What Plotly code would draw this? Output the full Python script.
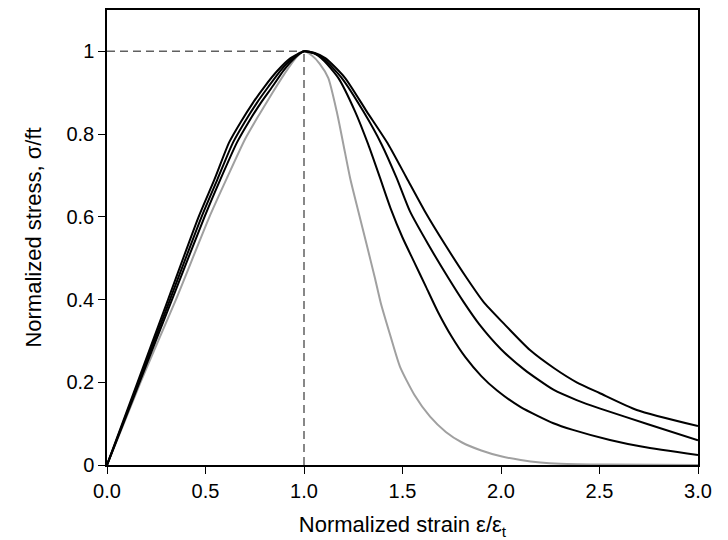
import plotly.graph_objects as go

# Normalized tensile stress-strain curves (strain / peak strain, stress / tensile strength)
strain_a = [0.0, 0.155, 0.31, 0.465, 0.545, 0.62, 0.68, 0.74, 0.80, 0.865, 0.93, 1.0, 1.05,
            1.1, 1.174, 1.259, 1.326, 1.386, 1.44, 1.50, 1.56, 1.62, 1.68, 1.75, 1.82, 1.90,
            1.98, 2.10, 2.266, 2.365, 2.553, 2.72, 3.0]
stress_a = [0.0, 0.2, 0.4, 0.6, 0.69, 0.78, 0.83, 0.875, 0.915, 0.953, 0.983, 1.0, 0.995,
            0.978, 0.936, 0.855, 0.775, 0.694, 0.62, 0.55, 0.49, 0.43, 0.37, 0.31, 0.26, 0.215,
            0.18, 0.14, 0.101, 0.085, 0.0605, 0.044, 0.024]

strain_b = [0.0, 0.16, 0.32, 0.48, 0.56, 0.64, 0.70, 0.76, 0.82, 0.88, 0.94, 1.0, 1.05,
            1.1, 1.191, 1.301, 1.394, 1.47, 1.538, 1.631, 1.733, 1.809, 1.89, 2.0, 2.12, 2.266,
            2.384, 2.5, 2.75, 3.0]
stress_b = [0.0, 0.2, 0.4, 0.6, 0.69, 0.78, 0.83, 0.875, 0.915, 0.953, 0.983, 1.0, 0.996,
            0.982, 0.936, 0.855, 0.775, 0.694, 0.613, 0.533, 0.452, 0.395, 0.34, 0.28, 0.23,
            0.182, 0.157, 0.137, 0.098, 0.06]

strain_c = [0.0, 0.165, 0.33, 0.495, 0.575, 0.66, 0.72, 0.78, 0.84, 0.895, 0.95, 1.0, 1.055,
            1.11, 1.208, 1.318, 1.428, 1.521, 1.614, 1.716, 1.826, 1.91, 2.012, 2.147, 2.27,
            2.384, 2.50, 2.689, 3.0]
stress_c = [0.0, 0.2, 0.4, 0.6, 0.69, 0.78, 0.83, 0.875, 0.915, 0.953, 0.983, 1.0, 0.996,
            0.983, 0.936, 0.855, 0.775, 0.694, 0.613, 0.533, 0.452, 0.395, 0.343, 0.278, 0.234,
            0.2, 0.174, 0.133, 0.094]

strain_gray = [0.0, 0.17, 0.35, 0.52, 0.61, 0.70, 0.77, 0.84, 0.90, 0.96, 1.0, 1.04, 1.08,
               1.123, 1.166, 1.2, 1.234, 1.276, 1.318, 1.36, 1.39, 1.44, 1.487, 1.56, 1.64,
               1.72, 1.80, 1.90, 2.0, 2.1, 2.2, 2.3, 2.54, 3.0]
stress_gray = [0.0, 0.2, 0.4, 0.6, 0.695, 0.787, 0.845, 0.9, 0.945, 0.985, 1.0, 0.99, 0.97,
               0.936, 0.855, 0.775, 0.694, 0.613, 0.533, 0.452, 0.391, 0.31, 0.238, 0.17, 0.117,
               0.08, 0.055, 0.035, 0.021, 0.012, 0.006, 0.003, 0.001, 0.0]

peak_strain = 1.0
peak_stress = 1.0

x_ticks = [0.0, 0.5, 1.0, 1.5, 2.0, 2.5, 3.0]
y_ticks = [0, 0.2, 0.4, 0.6, 0.8, 1.0]

FONT = "Liberation Sans, Arial, sans-serif"

fig = go.Figure()

# peak reference lines
for xs, ys in [([0, peak_strain], [peak_stress, peak_stress]),
               ([peak_strain, peak_strain], [0, peak_stress])]:
    fig.add_trace(go.Scatter(x=xs, y=ys, mode="lines",
                             line=dict(color="#606060", width=1.5, dash="8px,5px"),
                             hoverinfo="skip"))

fig.add_trace(go.Scatter(x=strain_gray, y=stress_gray, mode="lines",
                         line=dict(color="#a0a0a0", width=2, shape="spline", smoothing=0.6)))
for xs, ys in [(strain_a, stress_a), (strain_b, stress_b), (strain_c, stress_c)]:
    fig.add_trace(go.Scatter(x=xs, y=ys, mode="lines",
                             line=dict(color="#000000", width=2, shape="spline", smoothing=0.6)))

fig.update_layout(
    width=728, height=540,
    margin=dict(l=107, r=30, t=10, b=75),
    paper_bgcolor="white", plot_bgcolor="white",
    showlegend=False,
    font=dict(family=FONT, color="black"),
)
fig.update_xaxes(
    range=[0, 3.0], tickvals=x_ticks, ticktext=[f"{v:.1f}" for v in x_ticks],
    ticks="outside", ticklen=7, tickwidth=1.2, tickcolor="black",
    showline=True, linecolor="black", linewidth=1.5, mirror=True,
    showgrid=False, zeroline=False, layer="below traces", automargin=False,
    tickfont=dict(size=20, family=FONT),
    title=dict(text="Normalized strain ε/ε<sub>t</sub>", font=dict(size=22, family=FONT),
               standoff=17),
)
fig.update_yaxes(
    range=[0, 1.1], tickvals=y_ticks, ticktext=["0", "0.2", "0.4", "0.6", "0.8", "1"],
    ticks="outside", ticklen=7, tickwidth=1.2, tickcolor="black",
    showline=True, linecolor="black", linewidth=1.5, mirror=True,
    showgrid=False, zeroline=False, automargin=False,
    tickfont=dict(size=20, family=FONT),
    title=dict(text="Normalized stress, σ/ft", font=dict(size=22, family=FONT),
               standoff=19),
)

fig.write_html("out.html")
